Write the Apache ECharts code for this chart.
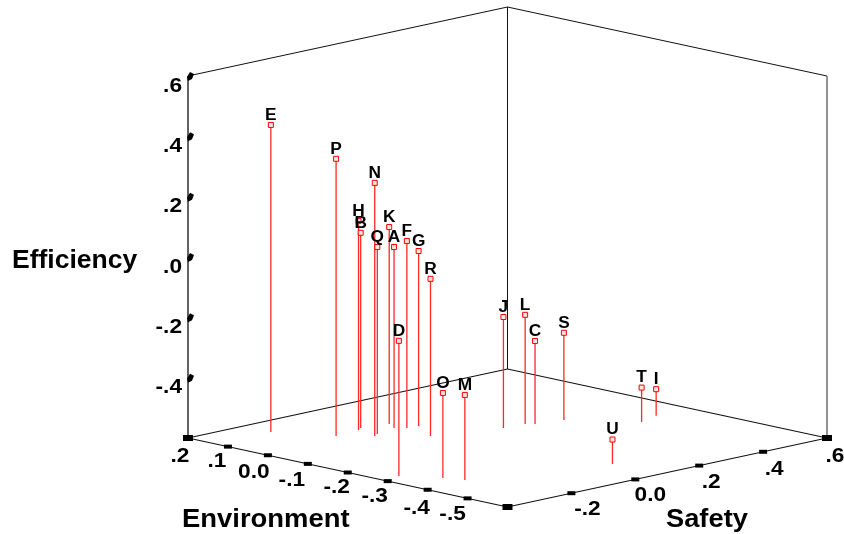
<!DOCTYPE html>
<html>
<head>
<meta charset="utf-8">
<style>
  html, body { margin: 0; padding: 0; background: #fff; }
  #chartDiv { width: 844px; height: 534px; }
</style>
<script src="https://cdn.jsdelivr.net/npm/echarts@6/dist/echarts.min.js"></script>
</head>
<body>
<div id="chartDiv"></div>
<script>
var names = ["E", "P", "H", "B", "N", "Q", "K", "A", "F", "G", "R", "D", "O", "M", "J", "L", "C", "S", "T", "I", "U"];
var environment = [0.131, 0.026, 0.033, 0.042, -0.022, -0.014, 0.029, 0.0, -0.016, -0.019, -0.092, -0.284, -0.351, -0.39, -0.137, -0.141, -0.153, -0.166, -0.275, -0.257, -0.482];
var safety = [-0.227, -0.154, -0.075, -0.057, -0.093, -0.075, 0.016, -0.005, 0.015, 0.048, -0.006, -0.345, -0.291, -0.271, 0.166, 0.229, 0.245, 0.319, 0.426, 0.494, 0.076];
var efficiency = [0.418, 0.319, 0.093, 0.047, 0.239, 0.02, 0.053, 0.0, 0.02, -0.02, -0.079, -0.152, -0.318, -0.318, -0.232, -0.238, -0.325, -0.311, -0.486, -0.512, -0.519];

var envTicks = [0.2, 0.1, 0, -0.1, -0.2, -0.3, -0.4, -0.5];
var envLabels = [".2", ".1", "0.0", "-.1", "-.2", "-.3", "-.4", "-.5"];
var safTicks = [-0.2, 0, 0.2, 0.4, 0.6];
var safLabels = ["-.2", "0.0", ".2", ".4", ".6"];
var effTicks = [0.6, 0.4, 0.2, 0, -0.2, -0.4];
var effLabels = [".6", ".4", ".2", ".0", "-.2", "-.4"];

// axis ranges of the box
var envMax = 0.2, envMin = -0.6;
var safMin = -0.4, safMax = 0.6;
var effMin = -0.6, effMax = 0.6;

var FONT = '"Liberation Sans", Arial, sans-serif';

// label offsets from their tick, the original places them a bit unevenly
var envLabelOffset = [[-8, 18], [-11, 15], [-14, 17], [-16, 16], [-11, 15], [-13, 15], [-11, 18], [-15, 16]];
var safLabelOffset = [[16, 16], [15, 16], [12, 17], [11, 17], [8, 18]];

// oblique view of the box, goes to the hidden x/y axes (canvas-like units)
function project(e, s, z) {
  var a = (envMax - e) / (envMax - envMin);
  var b = (s - safMin) / (safMax - safMin);
  return [
    188 + 319.5 * a + 319.5 * b,
    438 + 69 * a - 69 * b - (z - effMin) / (effMax - effMin) * 362
  ];
}

function text(api, str, p, size, scaleX, align) {
  return {
    type: "text",
    x: p[0], y: p[1], scaleX: scaleX,
    style: { text: str, fill: "#000", font: "bold " + size + "px " + FONT, align: align || "center", verticalAlign: "middle" }
  };
}

function seg(api, p0, p1, color, width) {
  var a = api.coord(p0), b = api.coord(p1);
  return {
    type: "line",
    shape: { x1: a[0], y1: a[1], x2: b[0], y2: b[1] },
    style: { stroke: color, lineWidth: width, fill: null }
  };
}

var frameEdges = [
  [envMax, safMin, effMin, envMax, safMin, effMax, "#222", 1.4],
  [envMax, safMin, effMax, envMax, safMax, effMax, "#111", 1],
  [envMax, safMax, effMax, envMin, safMax, effMax, "#111", 1],
  [envMax, safMax, effMax, envMax, safMax, effMin, "#111", 1],
  [envMin, safMax, effMax, envMin, safMax, effMin, "#777", 1.6],
  [envMax, safMin, effMin, envMax, safMax, effMin, "#111", 1.1],
  [envMax, safMax, effMin, envMin, safMax, effMin, "#111", 1.1],
  [envMax, safMin, effMin, envMin, safMin, effMin, "#111", 1.1],
  [envMin, safMin, effMin, envMin, safMax, effMin, "#111", 1.1]
];

function renderFrame(params, api) {
  var v = frameEdges[params.dataIndex];
  return seg(api, project(v[0], v[1], v[2]), project(v[3], v[4], v[5]), v[6], v[7]);
}

function floorTick(api, p, w, h) {
  var c = api.coord(p);
  return { type: "rect", shape: { x: c[0] - w / 2, y: c[1] - h / 2, width: w, height: h }, style: { fill: "#000" } };
}

function renderEnvTick(params, api) {
  var i = params.dataIndex;
  var p = project(envTicks[i], safMin, effMin);
  var big = i === 0;
  var off = envLabelOffset[i];
  return { type: "group", children: [
    floorTick(api, p, big ? 10 : 8, big ? 6 : 4),
    text(api, envLabels[i], api.coord([p[0] + off[0], p[1] + off[1]]), 21, 1.08)
  ] };
}

function renderSafTick(params, api) {
  var i = params.dataIndex;
  var p = project(envMin, safTicks[i], effMin);
  var big = safTicks[i] === safMax;
  var off = safLabelOffset[i];
  return { type: "group", children: [
    floorTick(api, p, big ? 10 : 8, big ? 6 : 4),
    text(api, safLabels[i], api.coord([p[0] + off[0], p[1] + off[1]]), 21, 1.08)
  ] };
}

function renderEffTick(params, api) {
  var i = params.dataIndex;
  var p = project(envMax, safMin, effTicks[i]);
  var c = api.coord(p);
  return { type: "group", children: [
    { type: "polygon",
      shape: { points: [[c[0] - 1, c[1] + 1], [c[0] + 2, c[1] - 4], [c[0] + 6, c[1] - 2], [c[0] + 4, c[1] + 3], [c[0], c[1] + 5]] },
      style: { fill: "#000" } },
    text(api, effLabels[i], api.coord([p[0] - 6, p[1] + 10]), 21, 1.08, "right")
  ] };
}

function renderPoint(params, api) {
  var e = api.value(0), s = api.value(1), z = api.value(2);
  var top = project(e, s, z);
  var c = api.coord(top);
  return { type: "group", children: [
    seg(api, top, project(e, s, effMin), "#ff2828", 1.3),
    { type: "rect", shape: { x: c[0] - 2.5, y: c[1] - 2.5, width: 5, height: 5 }, style: { fill: "#ffe6e6", stroke: "#ff0000", lineWidth: 1 } },
    text(api, names[api.value(3)], [c[0], c[1] - 9.5], 16, 1.08)
  ] };
}

function renderTitles(params, api) {
  return { type: "group", children: [
    text(api, "Efficiency", api.coord([12, 261]), 25.5, 1.04, "left"),
    text(api, "Environment", api.coord([182, 520]), 25.5, 1.075, "left"),
    text(api, "Safety", api.coord([666, 520]), 25.5, 1.07, "left")
  ] };
}

var chartDiv = document.getElementById("chartDiv");
var myChart = echarts.init(chartDiv);

var pointData = [];
for (var i = 0; i < names.length; i++) {
  pointData.push([environment[i], safety[i], efficiency[i], i]);
}

var option = {
  animation: false,
  backgroundColor: "#fff",
  grid: { left: 0, right: 0, top: 0, bottom: 0 },
  xAxis: { type: "value", min: 0, max: 844, show: false },
  yAxis: { type: "value", min: 0, max: 534, inverse: true, show: false },
  tooltip: { show: false },
  series: [
    { type: "custom", name: "frame", renderItem: renderFrame, data: frameEdges.map(function (d, k) { return [k, k]; }), silent: true },
    { type: "custom", name: "envTicks", renderItem: renderEnvTick, data: envTicks.map(function (d, k) { return [k, k]; }), silent: true },
    { type: "custom", name: "safTicks", renderItem: renderSafTick, data: safTicks.map(function (d, k) { return [k, k]; }), silent: true },
    { type: "custom", name: "effTicks", renderItem: renderEffTick, data: effTicks.map(function (d, k) { return [k, k]; }), silent: true },
    { type: "custom", name: "cornerTick", renderItem: function (params, api) { return floorTick(api, project(envMin, safMin, effMin), 10, 6); }, data: [[0, 0]], silent: true },
    { type: "custom", name: "points", renderItem: renderPoint, data: pointData, silent: true },
    { type: "custom", name: "titles", renderItem: renderTitles, data: [[0, 0]], silent: true }
  ]
};

myChart.setOption(option);
</script>
</body>
</html>
